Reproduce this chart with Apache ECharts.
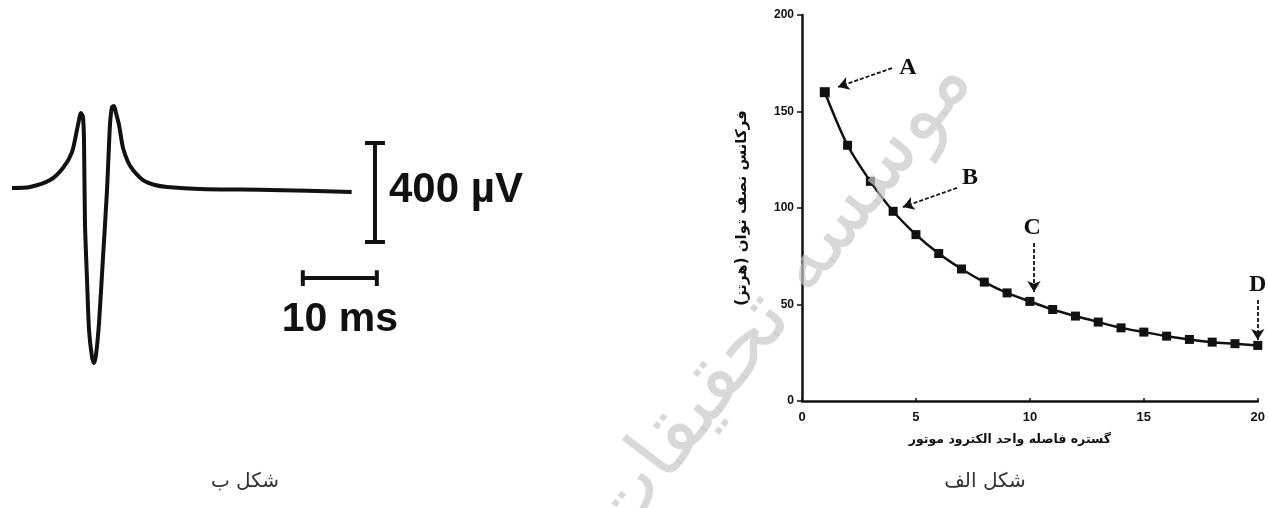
<!DOCTYPE html>
<html><head><meta charset="utf-8">
<script src="https://cdn.jsdelivr.net/npm/echarts@6/dist/echarts.min.js"></script>
<style>html,body{margin:0;padding:0;background:#fff}#c{width:1268px;height:508px}</style>
</head><body><div id="c"></div>
<script>
// ---- Figure "الف": half-power frequency vs motor electrode spacing ----
const distance = [1,2,3,4,5,6,7,8,9,10,11,12,13,14,15,16,17,18,19,20];
const frequency = [160,132.5,113.8,98.3,86.2,76.4,68.4,61.6,56,51.6,47.4,44,40.9,37.9,35.7,33.6,31.9,30.5,29.7,28.8];
const xTicks = [0,5,10,15,20];
const yTicks = [0,50,100,150,200];
// annotation letters and dashed arrows (data coordinates)
const letters = [['A',4.65,172.5],['B',7.37,115.5],['C',10.1,89.6],['D',20,60.1]];
const arrows = [[[3.95,172.5],[1.58,162.7]],[[6.8,110.4],[4.43,100.5]],[[10.18,81.9],[10.18,56.5]],[[20,52.3],[20,31.6]]];

// ---- Figure "ب": action potential trace (time ms, amplitude µV) ----
const traceTime = [0,2.43,5.14,6.89,8.11,8.92,9.32,9.59,9.73,9.86,10.14,10.41,10.81,11.08,11.35,11.76,12.3,12.84,13.24,13.51,13.78,14.05,14.46,15,15.68,16.35,17.7,19.32,20.95,25.4,34.9,45.9];
const traceVolt = [-4,0,28,77,141,251,299,283,190,-145,-376,-578,-687,-711,-679,-549,-283,-12,251,323,327,299,251,158,101,69,28,8,0,-8,-12,-20];
// scale bars: 400 µV and 10 ms
const voltBar = [[49.05,178],[49.05,-222]];
const voltCapTop = [[47.7,178],[50.4,178]];
const voltCapBot = [[47.7,-222],[50.4,-222]];
const timeBar = [[39.3,-368],[49.3,-368]];
const timeCapL = [[39.3,-336],[39.3,-400]];
const timeCapR = [[49.3,-336],[49.3,-400]];

const chart = echarts.init(document.getElementById('c'));
const black = '#111';
const barSeries = (d) => ({type:'line', xAxisIndex:1, yAxisIndex:1, data:d, symbol:'none', silent:true, animation:false,
  lineStyle:{color:black, width:4}});

chart.setOption({
  backgroundColor:'#fff',
  animation:false,
  grid:[
    {left:802, right:10, top:15, bottom:107, containLabel:false},
    {left:12, width:444, top:38.5, height:371.25, containLabel:false}
  ],
  xAxis:[
    {type:'value', min:0, max:20, interval:5, gridIndex:0,
     axisLine:{lineStyle:{color:black, width:2.5}},
     axisTick:{show:true, inside:true, length:3, lineStyle:{color:black, width:1.5}},
     splitLine:{show:false},
     axisLabel:{color:black, fontFamily:'Liberation Sans', fontWeight:'bold', fontSize:13, margin:10,
       customValues: xTicks},
     name:'گستره فاصله واحد الکترود موتور', nameLocation:'middle', nameGap:32,
     nameTextStyle:{color:black, fontFamily:'DejaVu Sans', fontWeight:'bold', fontSize:12.5, padding:[0,40,0,0]}},
    {type:'value', min:0, max:60, gridIndex:1, show:false}
  ],
  yAxis:[
    {type:'value', min:0, max:200, interval:50, gridIndex:0,
     axisLine:{show:true, lineStyle:{color:black, width:2.5}},
     axisTick:{show:true, length:5, lineStyle:{color:black, width:1.5}},
     splitLine:{show:false},
     axisLabel:{color:black, fontFamily:'Liberation Sans', fontWeight:'bold', fontSize:12, margin:8,
       customValues: yTicks},
     name:'فرکانس نصف توان (هرتز)', nameLocation:'middle', nameGap:52,
     nameTextStyle:{color:black, fontFamily:'DejaVu Sans', fontWeight:'bold', fontSize:15}},
    {type:'value', min:-900, max:600, gridIndex:1, show:false}
  ],
  series:[
    {type:'line', xAxisIndex:0, yAxisIndex:0, clip:false, silent:true,
     data: distance.map((x,i)=>[x,frequency[i]]),
     smooth:0.3,
     symbol:'rect', symbolSize:(v,p)=> p.dataIndex===0 ? 10 : 9,
     itemStyle:{color:black}, lineStyle:{color:black, width:2.5},
     markLine:{silent:true, animation:false, symbol:['none','arrow'], symbolSize:[10,11],
       lineStyle:{type:[4,2], color:black, width:1.8}, label:{show:false},
       data: arrows.map(a=>[{coord:a[0]},{coord:a[1]}])},
     markPoint:{silent:true, animation:false, symbol:'circle', symbolSize:1, itemStyle:{color:'rgba(0,0,0,0)'},
       label:{show:true, position:'inside', formatter:'{b}', color:black, fontFamily:'Liberation Serif', fontWeight:'bold', fontSize:24},
       data: letters.map(l=>({name:l[0], coord:[l[1],l[2]]}))}
    },
    {type:'line', xAxisIndex:1, yAxisIndex:1, silent:true, symbol:'none', smooth:0.25,
     data: traceTime.map((t,i)=>[t,traceVolt[i]]),
     lineStyle:{color:black, width:4}},
    Object.assign(barSeries(voltBar), {markPoint:{silent:true, animation:false, symbol:'circle', symbolSize:1,
       itemStyle:{color:'rgba(0,0,0,0)'},
       label:{show:true, position:'right', distance:2, formatter:'{b}', color:black, fontFamily:'Liberation Sans', fontWeight:'bold', fontSize:42},
       data:[{name:'400 µV', coord:[50.6,-12]}]}}),
    barSeries(voltCapTop), barSeries(voltCapBot),
    Object.assign(barSeries(timeBar), {markPoint:{silent:true, animation:false, symbol:'circle', symbolSize:1,
       itemStyle:{color:'rgba(0,0,0,0)'},
       label:{show:true, position:'inside', formatter:'{b}', color:black, fontFamily:'Liberation Sans', fontWeight:'bold', fontSize:41},
       data:[{name:'10 ms', coord:[44.3,-537]}]}}),
    barSeries(timeCapL), barSeries(timeCapR)
  ],
  graphic:[
    {type:'text', x:985, y:482, silent:true,
     style:{text:'شکل الف', fill:'#333', font:'20px "DejaVu Sans"', align:'center', verticalAlign:'middle'}},
    {type:'text', x:245, y:482, silent:true,
     style:{text:'شکل ب', fill:'#333', font:'20px "DejaVu Sans"', align:'center', verticalAlign:'middle'}},
    {type:'text', x:780, y:300, rotation:0.92, silent:true, z:100,
     style:{text:'موسسه تحقیقات', fill:'rgba(200,200,200,0.7)', font:'82px "DejaVu Sans"', align:'center', verticalAlign:'middle'}}
  ]
});
</script></body></html>
